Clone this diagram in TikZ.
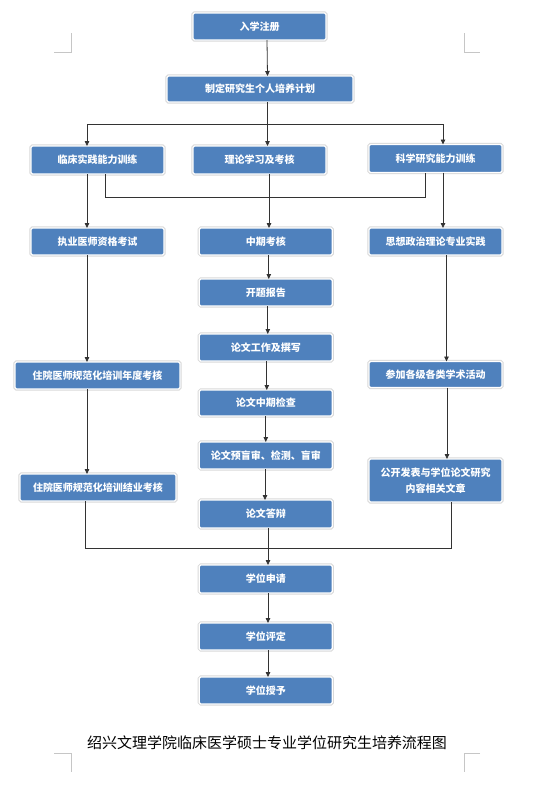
\documentclass[tikz,border=0pt]{standalone}
\usepackage{fontspec}
\newfontfamily\cjk{Noto Sans CJK SC}
\usetikzlibrary{arrows.meta}
\definecolor{boxblue}{HTML}{4F81BD}
\definecolor{linec}{HTML}{333333}
\begin{document}
\begin{tikzpicture}[x=1pt,y=-1pt,
  box/.style={rectangle, fill=boxblue, draw=white, line width=1.3pt, rounded corners=1.5pt,
    text=white, font=\cjk\bfseries\fontsize{10}{15.5}\selectfont, align=center,
    minimum width=133pt, minimum height=27pt, inner sep=0pt, outer sep=0pt,
    preaction={draw=gray!30, line width=3.2pt}},
  conn/.style={draw=linec, line width=0.8pt},
  arr/.style={conn, -{Triangle[length=5pt,width=4.5pt]}},
  crop/.style={draw=gray!45, line width=0.6pt}]
\useasboundingbox (0,0) rectangle (554,804);
% corner marks
\draw[crop] (71,33) -- (71,52) -- (54,52);
\draw[crop] (464,33) -- (464,52) -- (480,52);
\draw[crop] (54,753) -- (71,753) -- (71,772);
\draw[crop] (480,753) -- (464,753) -- (464,772);
% nodes
\node[box] (n1) at (259.5,26.5) {入学注册};
\node[box, minimum width=186pt, minimum height=26pt] (n2) at (260,89) {制定研究生个人培养计划};
\node[box, minimum height=28pt] (a1) at (97.5,160) {临床实践能力训练};
\node[box, minimum height=28pt] (b1) at (259.5,160) {理论学习及考核};
\node[box, minimum height=28pt] (c1) at (435.5,158.5) {科学研究能力训练};
\node[box] (a2) at (97.5,241.5) {执业医师资格考试};
\node[box] (b2) at (265.8,241.5) {中期考核};
\node[box] (c2) at (435.5,241.5) {思想政治理论专业实践};
\node[box] (b3) at (265.8,292.5) {开题报告};
\node[box] (b4) at (265.8,347.5) {论文工作及撰写};
\node[box, minimum height=26pt] (b5) at (265.8,403) {论文中期检查};
\node[box, minimum width=165pt] (a3) at (97.5,375.5) {住院医师规范化培训年度考核};
\node[box, minimum height=26pt] (c3) at (435.5,374.5) {参加各级各类学术活动};
\node[box] (b6) at (265.8,455.5) {论文预盲审、检测、盲审};
\node[box, minimum width=156pt] (a4) at (98,487.5) {住院医师规范化培训结业考核};
\node[box, minimum height=43pt] (c4) at (435.5,480.5) {公开发表与学位论文研究\\内容相关文章};
\node[box, minimum height=28pt] (b7) at (265.8,514) {论文答辩};
\node[box, minimum height=28pt] (d1) at (265.8,579) {学位申请};
\node[box] (d2) at (265.8,636.5) {学位评定};
\node[box] (d3) at (265.8,690.5) {学位授予};
\node[font=\cjk\fontsize{15}{18}\selectfont, text=black] (cap) at (267,743) {绍兴文理学院临床医学硕士专业学位研究生培养流程图};
% coordinates
\coordinate (j1) at (267.5,124.3);
\coordinate (j2) at (105,197);
\coordinate (j3) at (85,548);
% connectors
\draw[arr] ([xshift=7.5pt]n1.south) -- ([xshift=7.5pt]n2.north);
\draw[arr] ([xshift=7.5pt]n2.south) -- (b1.north -| j1);
\draw[arr] (j1) -| ([xshift=-10.5pt]a1.north);
\draw[arr] (j1) -| ([xshift=7.5pt]c1.north);
\draw[arr] ([xshift=-10.5pt]a1.south) -- ([xshift=-10.5pt]a2.north);
\draw[conn] ([xshift=7.5pt]a1.south) -- (j2) -| ([xshift=-10.5pt]c1.south);
\draw[arr] ([xshift=9.5pt]b1.south) -- ([xshift=3.2pt]b2.north);
\draw[arr] ([xshift=7.5pt]c1.south) -- ([xshift=7.5pt]c2.north);
\draw[arr] ([xshift=-10.5pt]a2.south) -- ([xshift=-10.5pt]a3.north);
\draw[arr] ([xshift=3pt]b2.south) -- ([xshift=3pt]b3.north);
\draw[arr] ([xshift=2pt]b3.south) -- ([xshift=2pt]b4.north);
\draw[arr] ([xshift=1pt]b4.south) -- ([xshift=1pt]b5.north);
\draw[arr] ([xshift=0pt]b5.south) -- ([xshift=0pt]b6.north);
\draw[arr] ([xshift=-0.8pt]b6.south) -- ([xshift=-0.8pt]b7.north);
\draw[arr] ([xshift=11pt]c2.south) -- ([xshift=11pt]c3.north);
\draw[arr] ([xshift=11.5pt]c3.south) -- ([xshift=11.5pt]c4.north);
\draw[arr] ([xshift=-10.5pt]a3.south) -- ([xshift=-11pt]a4.north);
\draw[conn] ([xshift=-13pt]a4.south) -- (j3) -| ([xshift=15.5pt]c4.south);
\draw[arr] ([xshift=2.2pt]b7.south) -- ([xshift=2.2pt]d1.north);
\draw[arr] ([xshift=2.2pt]d1.south) -- ([xshift=2.2pt]d2.north);
\draw[arr] ([xshift=2.2pt]d2.south) -- ([xshift=2.2pt]d3.north);
\end{tikzpicture}
\end{document}
